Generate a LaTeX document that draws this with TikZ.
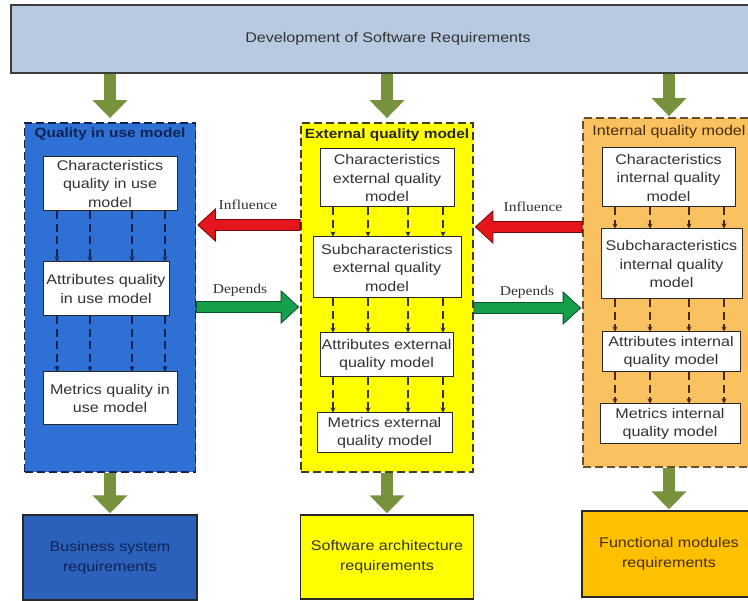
\documentclass[tikz,border=0pt]{standalone}
\usepackage{fontspec}
\setmainfont{Liberation Sans}[FakeStretch=1.15]
\newfontfamily\lblfont{Liberation Serif}[FakeStretch=1.15]
\usetikzlibrary{arrows.meta,calc}
\definecolor{topfill}{RGB}{184,202,226}
\definecolor{topline}{RGB}{60,60,60}
\definecolor{olive}{RGB}{118,146,60}
\definecolor{bluec}{RGB}{47,112,212}
\definecolor{blueb}{RGB}{43,97,186}
\definecolor{navy}{RGB}{16,34,82}
\definecolor{yellowc}{RGB}{255,255,0}
\definecolor{ydash}{RGB}{64,64,24}
\definecolor{orangec}{RGB}{250,193,96}
\definecolor{orangeb}{RGB}{255,192,0}
\definecolor{odash}{RGB}{100,80,50}
\definecolor{brownt}{RGB}{70,45,10}
\definecolor{redf}{RGB}{228,22,28}
\definecolor{redl}{RGB}{110,10,10}
\definecolor{greenf}{RGB}{22,160,76}
\definecolor{greenl}{RGB}{10,80,40}
\definecolor{txt}{RGB}{50,50,50}
\definecolor{boxline}{RGB}{40,40,40}
\begin{document}
\begin{tikzpicture}[x=1pt,y=-1pt,
  sz/.style 2 args={minimum width=#1pt, minimum height=#2pt},
  topbox/.style={draw=topline, line width=1.6pt, fill=topfill, text=txt, font=\fontsize{14}{18}\selectfont, inner sep=0pt},
  cont/.style={line width=1.8pt, dash pattern=on 8pt off 4pt, inner sep=0pt},
  inbox/.style={draw=boxline, line width=1pt, fill=white, text=txt, inner sep=0pt, align=center, font=\fontsize{14}{18.5}\selectfont},
  ttl/.style={inner sep=0pt, anchor=base, font=\fontsize{13.4}{16}\selectfont\bfseries},
  botbox/.style={draw=boxline, line width=1.4pt, inner sep=0pt, align=center, font=\fontsize{14}{20}\selectfont},
  gdn/.style={draw=olive, line width=12pt, -{Triangle[length=18pt,width=34pt]}},
  dar/.style={draw=#1, line width=1.5pt, dash pattern=on 8pt off 4.5pt, -{Stealth[length=5pt,width=5pt]}},
  redarr/.style={fill=redf, draw=redl, line width=0.8pt},
  grnarr/.style={fill=greenf, draw=greenl, line width=0.8pt},
  lbl/.style={font=\lblfont\fontsize{13.5}{16}\selectfont, text=txt, inner sep=0pt}
]
\useasboundingbox (0,0) rectangle (748,601);
\begin{scope}
\clip (0,0) rectangle (748,601);
\fill[white] (0,0) rectangle (748,601);

\node[topbox, sz={754}{68}] (top) at (388,39) {Development of Software Requirements};

\node[cont, draw=navy, fill=bluec, sz={171}{349}] (qiu) at (110,297.5) {};
\node[cont, draw=ydash, fill=yellowc, sz={172}{349}] (ext) at (387,297.5) {};
\node[cont, draw=odash, fill=orangec, sz={172}{349}] (int) at (669,292.5) {};

\node[ttl, text=navy] (qiut) at ($(qiu.north)+(0,15)$) {Quality in use model};
\node[ttl, text=black!85] (extt) at ($(ext.north)+(0,16)$) {External quality model};
\node[ttl, font=\fontsize{14}{16}\selectfont, text=brownt] (intt) at ($(int.north)+(0,18)$) {Internal quality model};

\node[inbox, sz={134}{54}] (lc) at (110,184) {Characteristics\\quality in use\\model};
\node[inbox, sz={126}{54}] (la) at (106,289) {Attributes quality\\in use model};
\node[inbox, sz={134}{53}] (lm) at (110,398.5) {Metrics quality in\\use model};

\node[inbox, sz={134}{58}] (ec) at (387,178) {Characteristics\\external quality\\model};
\node[inbox, sz={148}{61}] (es) at (387,267.5) {Subcharacteristics\\external quality\\model};
\node[inbox, sz={133}{44}] (ea) at (386.5,355) {Attributes external\\quality model};
\node[inbox, sz={135}{40}] (em) at (384.5,433) {Metrics external\\quality model};

\node[inbox, sz={133}{59}] (ic) at (668.5,177.5) {Characteristics\\internal quality\\model};
\node[inbox, sz={141}{70}] (is) at (671.5,264) {Subcharacteristics\\internal quality\\model};
\node[inbox, sz={138}{40}] (ia) at (671,352) {Attributes internal\\quality model};
\node[inbox, sz={140}{40}] (im) at (670,424) {Metrics internal\\quality model};

\foreach \xx in {57,90,132,165} {
  \draw[dar=navy] (\xx,0 |- lc.south) -- (\xx,0 |- la.north);
  \draw[dar=navy] (\xx,0 |- la.south) -- (\xx,0 |- lm.north);
}
\foreach \xx in {333,368,408,443} {
  \draw[dar=black!80] (\xx,0 |- ec.south) -- (\xx,0 |- es.north);
  \draw[dar=black!80] (\xx,0 |- es.south) -- (\xx,0 |- ea.north);
  \draw[dar=black!80] (\xx,0 |- ea.south) -- (\xx,0 |- em.north);
}
\foreach \xx in {615,650,689,724} {
  \draw[dar=brownt] (\xx,0 |- ic.south) -- (\xx,0 |- is.north);
  \draw[dar=brownt] (\xx,0 |- is.south) -- (\xx,0 |- ia.north);
  \draw[dar=brownt] (\xx,0 |- ia.south) -- (\xx,0 |- im.north);
}

\node[botbox, fill=blueb, text=navy, sz={174}{85}] (bl) at (110,557.5) {Business system\\requirements};
\node[botbox, fill=yellowc, text=txt, sz={173}{84}] (bm) at (387,557) {Software architecture\\requirements};
\node[botbox, fill=orangeb, text=brownt, sz={174}{86}] (br) at (669,554) {Functional modules\\requirements};

\draw[gdn, shorten >=4pt] (top.south -| qiu.north) -- (qiu.north);
\draw[gdn, shorten >=4pt] (top.south -| ext.north) -- (ext.north);
\draw[gdn, shorten >=1pt] (top.south -| int.north) -- (int.north);
\draw[gdn, shorten >=1pt] (qiu.south) -- (bl.north);
\draw[gdn, shorten >=1pt] (ext.south) -- (bm.north);
\draw[gdn, shorten >=1pt] (int.south) -- (br.north);

\draw[redarr] let \p1=(ext.west |- 0,225), \p2=(qiu.east) in
  (\x1,\y1+5.5pt) -- (\x2+19pt,\y1+5.5pt) -- (\x2+19pt,\y1+16pt) -- (\x2+1.5pt,\y1)
  -- (\x2+19pt,\y1-16pt) -- (\x2+19pt,\y1-5.5pt) -- (\x1,\y1-5.5pt) -- cycle;
\draw[redarr] let \p1=(int.west |- 0,227), \p2=(ext.east) in
  (\x1,\y1+5.5pt) -- (\x2+19pt,\y1+5.5pt) -- (\x2+19pt,\y1+16pt) -- (\x2+1.5pt,\y1)
  -- (\x2+19pt,\y1-16pt) -- (\x2+19pt,\y1-5.5pt) -- (\x1,\y1-5.5pt) -- cycle;
\draw[grnarr] let \p1=(qiu.east |- 0,307), \p2=(ext.west) in
  (\x1,\y1+5.5pt) -- (\x2-19pt,\y1+5.5pt) -- (\x2-19pt,\y1+16pt) -- (\x2-1.5pt,\y1)
  -- (\x2-19pt,\y1-16pt) -- (\x2-19pt,\y1-5.5pt) -- (\x1,\y1-5.5pt) -- cycle;
\draw[grnarr] let \p1=(ext.east |- 0,308), \p2=(int.west) in
  (\x1,\y1+5.5pt) -- (\x2-19pt,\y1+5.5pt) -- (\x2-19pt,\y1+16pt) -- (\x2-1.5pt,\y1)
  -- (\x2-19pt,\y1-16pt) -- (\x2-19pt,\y1-5.5pt) -- (\x1,\y1-5.5pt) -- cycle;

\node[lbl] (inf1) at (248,205) {Influence};
\node[lbl] (inf2) at (533,207) {Influence};
\node[lbl] (dep1) at (240,290) {Depends};
\node[lbl] (dep2) at (527,292) {Depends};
\end{scope}
\end{tikzpicture}
\end{document}
